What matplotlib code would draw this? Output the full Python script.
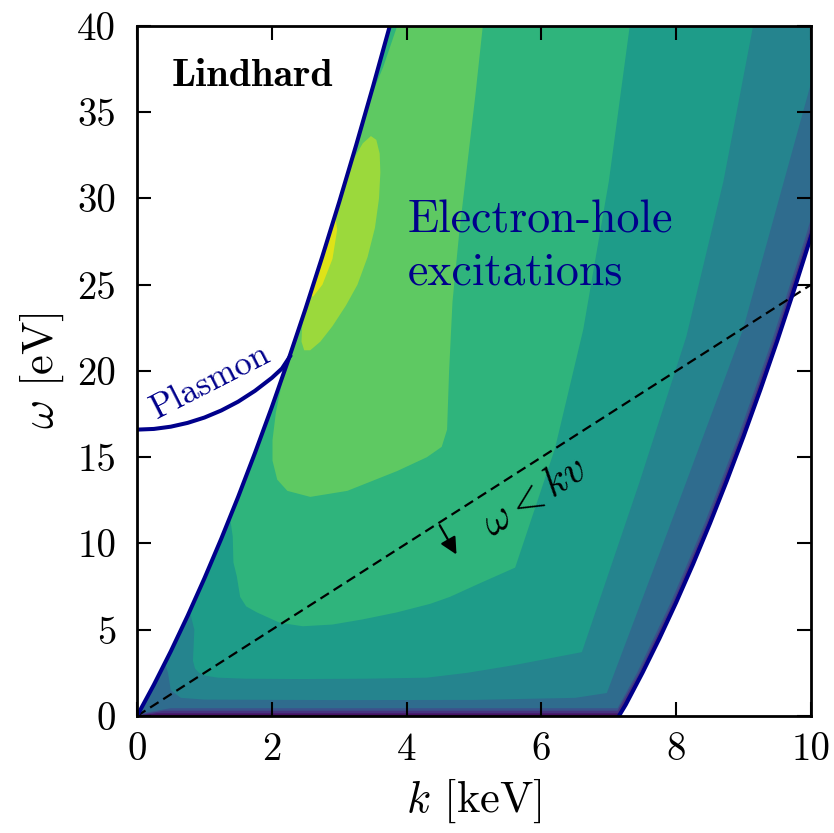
"""Lindhard electron-hole continuum in the (k, omega) plane."""

import matplotlib

matplotlib.use("Agg")
import matplotlib.pyplot as plt
import numpy as np
from matplotlib.patches import Polygon

# edges of the electron-hole continuum (k in keV, omega in eV)
upper_k = [0.0, 0.25, 0.5, 0.75, 1.0, 1.25, 1.5, 1.75, 2.0, 2.25, 2.5, 2.75, 3.0, 3.25,
           3.5, 3.75, 4.0]
upper_w = [0.0, 1.81, 3.74, 5.80, 7.98, 10.28, 12.70, 15.25, 17.91, 20.70, 23.61, 26.65,
           29.80, 33.08, 36.48, 40.00, 43.65]
lower_k = [7.15, 7.25, 7.5, 7.75, 8.0, 8.25, 8.5, 8.75, 9.0, 9.25, 9.5, 9.75, 10.0, 10.25,
           10.5]
lower_w = [0.0, 0.65, 2.51, 4.49, 6.59, 8.81, 11.16, 13.63, 16.22, 18.93, 21.76, 24.72,
           27.80, 31.0, 34.32]

# plasmon branch
plasmon_k = [0.0, 0.25, 0.5, 0.75, 1.0, 1.25, 1.5, 1.75, 2.0, 2.15, 2.27]
plasmon_w = [16.6, 16.64, 16.77, 16.99, 17.3, 17.71, 18.22, 18.85, 19.6, 20.14, 20.85]

# omega = k v line
kv_k = [0.0, 10.0]
kv_w = [0.0, 25.0]

# filled contours: region above each level, outline points (k, omega)
lvl1_k = [0.0, 0.3, 7.14, 7.47, 7.97, 8.47, 8.97, 9.47, 9.97, 10.47, 10.6, 0.0]
lvl1_w = [0.02, 0.15, 0.15, 2.51, 6.59, 11.16, 16.22, 21.76, 27.8, 34.32, 45, 45]
lvl2_k = [0.0, 0.4, 7.13, 7.45, 7.95, 8.45, 8.95, 9.45, 9.95, 10.45, 10.6, 0.0]
lvl2_w = [0.05, 0.3, 0.3, 2.51, 6.59, 11.16, 16.22, 21.76, 27.8, 34.32, 45, 45]
lvl3_k = [0.0, 0.5, 7.13, 7.42, 7.92, 8.42, 8.92, 9.42, 9.92, 10.42, 10.6, 0.0]
lvl3_w = [0.1, 0.45, 0.45, 2.51, 6.59, 11.16, 16.22, 21.76, 27.8, 34.32, 45, 45]
lvl4_k = [0.3, 0.46, 0.5, 0.65, 1.0, 3.0, 5.0, 6.5, 6.97, 7.98, 8.99, 10.0, 10.3, 0.3]
lvl4_w = [4.5, 2.5, 1.5, 1.05, 0.95, 0.92, 0.93, 1.05, 1.33, 11.8, 22.4, 36.7, 45, 45]
lvl5_k = [0.6, 0.85, 0.83, 0.86, 0.92, 1.02, 1.2, 1.6, 2.4, 3.4, 4.3, 4.9, 5.6, 6.6, 7.45,
          8.15, 8.7, 9.14, 9.3, 0.6]
lvl5_w = [9, 5.0, 3.2, 2.75, 2.5, 2.33, 2.22, 2.16, 2.14, 2.16, 2.22, 2.5, 2.95, 3.7, 13.5,
          22, 31, 40, 45, 45]
lvl6_k = [1.2, 1.38, 1.42, 1.43, 1.48, 1.53, 1.62, 1.78, 2.12, 2.46, 2.9, 3.35, 3.85, 4.35,
          4.64, 5.09, 5.61, 6.2, 6.62, 7.0, 7.31, 7.4, 1.2]
lvl6_w = [14, 11.5, 10.4, 8.9, 8.1, 6.9, 6.35, 6.0, 5.4, 5.2, 5.3, 5.6, 6.0, 6.5,
          6.9, 7.7, 8.6, 15.5, 22.4, 31, 40, 45, 45]
lvl7_k = [2.0, 2.26, 2.16, 2.06, 2.01, 2.01, 2.08, 2.23, 2.57, 3.12, 3.86, 4.3, 4.52, 4.6,
          4.63, 4.68, 4.78, 4.9, 5.02, 5.13, 5.2, 3.9, 3.86, 3.65, 3.47, 3.3]
lvl7_w = [30, 21.3, 19.5, 17.6, 16.0, 14.8, 13.7, 13.05, 12.7, 13.05, 14.2, 15.0, 15.6,
          16.6, 20, 24, 28, 32, 36, 40, 45, 45, 40, 37.6, 35.9, 34.5]
lvl8_k = [3.0, 3.09, 3.2, 3.35, 3.47, 3.55, 3.6, 3.61, 3.59, 3.53, 3.42, 3.27, 3.1, 2.9,
          2.72, 2.57, 2.48, 2.44, 2.45, 2.5, 2.55, 2.9]
lvl8_w = [30.8, 31.0, 32.2, 33.2, 33.62, 33.4, 32.6, 31.5, 30, 28.3, 26.6, 25.0, 23.8, 22.6,
          21.7, 21.2, 21.2, 21.7, 22.6, 23.7, 25, 31.5]
lvl9_k = [2.4, 2.61, 2.75, 2.9, 2.97, 2.9]
lvl9_w = [25, 24.3, 25, 26.5, 28.2, 30]

levels_k = [lvl1_k, lvl2_k, lvl3_k, lvl4_k, lvl5_k, lvl6_k, lvl7_k, lvl8_k, lvl9_k]
levels_w = [lvl1_w, lvl2_w, lvl3_w, lvl4_w, lvl5_w, lvl6_w, lvl7_w, lvl8_w, lvl9_w]

plt.rcParams["font.family"] = "cmr10"
plt.rcParams["mathtext.fontset"] = "cm"
plt.rcParams["axes.unicode_minus"] = False

navy = "#00008b"
cmap = plt.get_cmap("viridis")

fig = plt.figure(figsize=(8.34, 8.33), dpi=100)
ax = fig.add_axes([0.1643, 0.1405, 0.8082, 0.8283])

cont_k = upper_k + [10.6] + lower_k[::-1]
cont_w = upper_w + [upper_w[-1]] + lower_w[::-1]
continuum = Polygon(np.column_stack([cont_k, cont_w]), closed=True,
                    facecolor=cmap(0.05), edgecolor="none", zorder=1)
ax.add_patch(continuum)
for i, (rk, rw) in enumerate(zip(levels_k, levels_w), start=1):
    patch = ax.fill(rk, rw, color=cmap((i + 0.5) / 10), lw=0, zorder=1)[0]
    patch.set_clip_path(continuum)

ax.plot(kv_k, kv_w, color="black", lw=1.6, dashes=(4.5, 2.5), zorder=2)
ax.plot(upper_k, upper_w, color=navy, lw=2.9, zorder=3)
ax.plot(lower_k, lower_w, color=navy, lw=2.9, zorder=3)
ax.plot(plasmon_k, plasmon_w, color=navy, lw=2.9, zorder=3)

ax.annotate("", xy=(4.76, 9.22), xytext=(4.47, 11.2),
            arrowprops=dict(arrowstyle="-|>", color="black", lw=1.6, mutation_scale=25))

ax.text(0.52, 36.5, "Lindhard", fontfamily="cmb10", fontsize=29, va="baseline")
ax.text(4.02, 28.0, "Electron-hole", color=navy, fontsize=33, va="baseline")
ax.text(4.02, 25.0, "excitations", color=navy, fontsize=33, va="baseline")
ax.text(1.10, 19.4, "Plasmon", color=navy, fontsize=25, rotation=27,
        ha="center", va="center")
ax.text(5.90, 12.7, r"$\omega < kv$", fontsize=30, rotation=32.6,
        ha="center", va="center")

ax.set_xlim(0, 10)
ax.set_ylim(0, 40)
ax.set_xticks(np.arange(0, 11, 2))
ax.set_yticks(np.arange(0, 41, 5))
ax.tick_params(direction="in", top=True, right=True, length=10, width=1.5,
               labelsize=28)
ax.tick_params(axis="y", pad=15)
ax.tick_params(axis="x", pad=12)
for spine in ax.spines.values():
    spine.set_linewidth(2)
    spine.set_zorder(5)

ax.set_xlabel(r"$k$ [keV]", fontsize=32, labelpad=6)
ax.set_ylabel(r"$\omega$ [eV]", fontsize=32, labelpad=8)

fig.savefig("out.png", dpi=100)
plt.close(fig)
